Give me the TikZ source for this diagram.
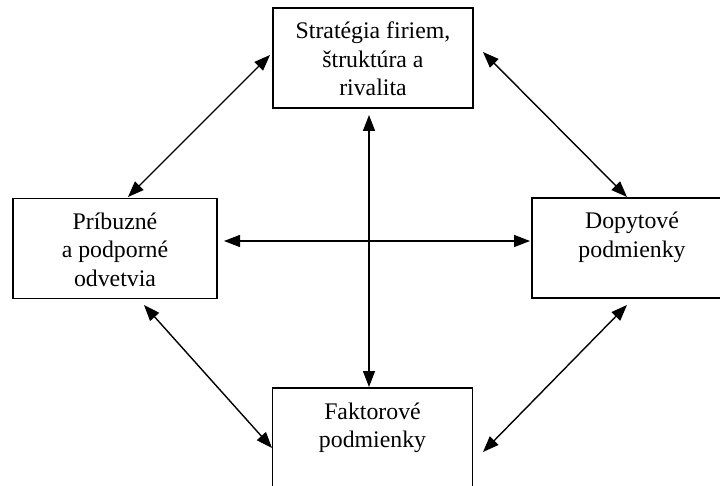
\documentclass[tikz,border=0pt]{standalone}
\usepackage{fontspec}
\setmainfont{Liberation Serif}
\usetikzlibrary{arrows.meta,calc}
\newcommand{\boxtext}[2]{\parbox[c][#1][t]{200pt}{\centering\fontsize{23.8}{28.5}\selectfont\rule{0pt}{31pt}#2\par}}
\begin{document}
\begin{tikzpicture}[x=1pt,y=1pt,
  factorbox/.style={draw,line width=1.5pt,inner sep=0pt,minimum width=200pt,minimum height=100pt},
  link/.style={line width=1.4pt,{Triangle[length=16pt,width=12pt]}-{Triangle[length=16pt,width=12pt]}}]
\useasboundingbox (0,0) rectangle (720,-486);
\fill[white] (0,0) rectangle (720,-486);
\node[factorbox] (top) at (373,-58) {\boxtext{100pt}{Stratégia firiem,\\ štruktúra a\\ rivalita}};
\node[factorbox,minimum width=204pt] (left) at (115,-248.5) {\boxtext{100pt}{Príbuzné\\ a podporné\\ odvetvia}};
\node[factorbox] (right) at (632,-248) {\boxtext{100pt}{Dopytové\\ podmienky}};
\node[factorbox] (bottom) at (372.5,-438) {\boxtext{100pt}{Faktorové\\ podmienky}};
\coordinate (tlA) at (128,-197);
\coordinate (tlB) at (270,-55);
\coordinate (trA) at (483,-52);
\coordinate (trB) at (627,-197);
\coordinate (blA) at (144,-305);
\coordinate (blB) at (272,-448);
\coordinate (brA) at (627,-305);
\coordinate (brB) at (483,-452);
\coordinate (hA) at (224,-241);
\coordinate (hB) at (530,-241);
\coordinate (vA) at (369,-115);
\coordinate (vB) at (369,-387);
\draw[link] (tlA) -- (tlB);
\draw[link] (trA) -- (trB);
\draw[link] (blA) -- (blB);
\draw[link] (brA) -- (brB);
\draw[link] (hA) -- (hB);
\draw[link] (vA) -- (vB);
\end{tikzpicture}
\end{document}
